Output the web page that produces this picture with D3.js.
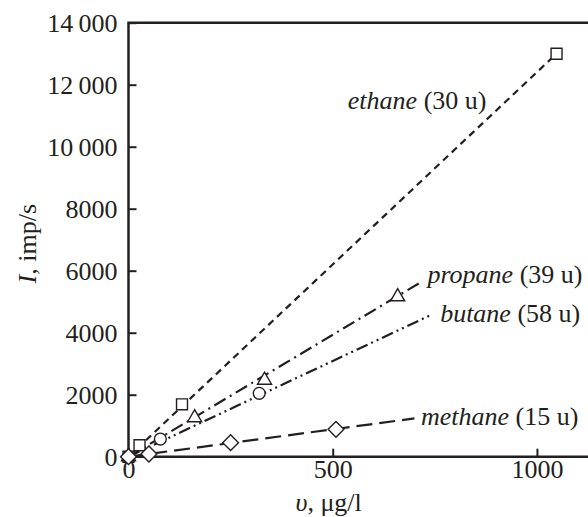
<!DOCTYPE html>
<html>
<head>
<meta charset="utf-8">
<script src="https://cdn.jsdelivr.net/npm/d3@7"></script>
<style>
  body { margin: 0; background: #fff; }
  svg text { font-family: "Liberation Serif", "Times New Roman", Times, "DejaVu Serif", serif; fill: #231f20; }
</style>
</head>
<body>
<div id="plot"></div>
<script>
const width = 588
const height = 517

// --- Data ---
const xTicks = [0, 500, 1000]
const yTicks = [0, 2000, 4000, 6000, 8000, 10000, 12000, 14000]

// measured points, v (ug/l) and I (imp/s)
const ethaneX = [0, 27, 131, 1048]
const ethaneY = [0, 370, 1690, 13000]
const propaneX = [0, 162, 333, 659]
const propaneY = [0, 1260, 2470, 5160]
const butaneX = [0, 78, 320]
const butaneY = [0, 570, 2045]
const methaneX = [0, 50, 250, 508]
const methaneY = [0, 87, 452, 884]

// fit lines: start and end (v, I)
const ethaneLine = [[0, 0], [1048, 13000]]
const propaneLine = [[0, 0], [712, 5600]]
const butaneLine = [[0, 0], [745, 4600]]
const methaneLine = [[0, 0], [700, 1235]]

// label anchors (v, I), name and mass
const series = [
  { name: "ethane", mass: "(30 u)", xs: ethaneX, ys: ethaneY, line: ethaneLine, symbol: "square", dash: "7,5", at: [537, 11230] },
  { name: "propane", mass: "(39 u)", xs: propaneX, ys: propaneY, line: propaneLine, symbol: "triangle", dash: "13,5,2,5", at: [732, 5600] },
  { name: "butane", mass: "(58 u)", xs: butaneX, ys: butaneY, line: butaneLine, symbol: "circle", dash: "12,4,2,4,2,4", at: [763, 4350] },
  { name: "methane", mass: "(15 u)", xs: methaneX, ys: methaneY, line: methaneLine, symbol: "diamond", dash: "16,7", at: [716, 1020] }
]

const serif = '"Liberation Serif", "Times New Roman", Times, "DejaVu Serif", serif'

const svg = d3.select("#plot")
              .append("svg")
                .attr("width", width)
                .attr("height", height)
                .attr("font-family", serif)

// Scales
const xScale = d3.scaleLinear()
                 .domain([0, 1125])
                 .range([128.5, 588])

const yScale = d3.scaleLinear()
                 .domain([0, 14000])
                 .range([456.7, 22.7])

const ink = "#231f20"
const fontSize = 26

// Frame (top, left, bottom)
svg.append("path")
   .attr("d", `M${xScale.range()[1]},${yScale(14000)} H${xScale(0)} V${yScale(0)} H${xScale.range()[1]}`)
   .attr("fill", "none")
   .attr("stroke", ink)
   .attr("stroke-width", 2.5)

// Y axis - ticks pointing inside
const fmtY = d => d >= 10000 ? d3.format("d")(d).replace(/(\d{2})(\d{3})/, "$1\u2009$2") : d3.format("d")(d)
const yAxis = d3.axisLeft(yScale)
                .tickValues(yTicks)
                .tickSize(-8)
                .tickPadding(11)
                .tickFormat(fmtY)

svg.append("g")
   .attr("transform", `translate(${xScale(0)},0)`)
   .call(yAxis)
   .attr("font-family", serif)
   .call(g => g.select(".domain").remove())
   .call(g => g.selectAll("line").attr("stroke", ink).attr("stroke-width", 2))
   .call(g => g.selectAll("text").attr("font-size", fontSize).attr("fill", ink))

// X axis - ticks pointing up
const xAxis = d3.axisBottom(xScale)
                .tickValues(xTicks)
                .tickSize(-8)
                .tickPadding(3)
                .tickFormat(d3.format("d"))

svg.append("g")
   .attr("transform", `translate(0,${yScale(0)})`)
   .call(xAxis)
   .attr("font-family", serif)
   .call(g => g.select(".domain").remove())
   .call(g => g.selectAll("line").attr("stroke", ink).attr("stroke-width", 2))
   .call(g => g.selectAll("text").attr("font-size", fontSize).attr("fill", ink))

// Axis titles
const yTitle = svg.append("text")
                  .attr("transform", `translate(36,${yScale(7000) + 4}) rotate(-90)`)
                  .attr("text-anchor", "middle")
                  .attr("font-size", fontSize)
yTitle.append("tspan").attr("font-style", "italic").text("I")
yTitle.append("tspan").text(", imp/s")

const xTitle = svg.append("text")
                  .attr("x", xScale(490))
                  .attr("y", 511)
                  .attr("text-anchor", "middle")
                  .attr("font-size", fontSize)
xTitle.append("tspan").attr("font-style", "italic").text("\u03c5")
xTitle.append("tspan").text(", \u03bcg/l")

// Lines
const line = d3.line()
               .x(d => xScale(d[0]))
               .y(d => yScale(d[1]))

series.forEach(s => {
  svg.append("path")
     .datum(s.line)
     .attr("fill", "none")
     .attr("stroke", ink)
     .attr("stroke-width", 2.2)
     .attr("stroke-dasharray", s.dash)
     .attr("d", line)
})

// Markers - diamond is a square turned 45 degrees
const symbols = {
  square: d3.symbolSquare,
  triangle: d3.symbolTriangle,
  circle: d3.symbolCircle,
  diamond: d3.symbolSquare
}
const sizes = { square: 120, triangle: 85, circle: 110, diamond: 125 }

series.forEach(s => {
  const pts = s.xs.map((x, i) => [x, s.ys[i]])
  const turn = s.symbol === "diamond" ? " rotate(45)" : ""
  svg.append("g")
     .selectAll("path")
     .data(pts)
     .join("path")
       .attr("transform", d => `translate(${xScale(d[0])},${yScale(d[1])})${turn}`)
       .attr("d", d3.symbol().type(symbols[s.symbol]).size(sizes[s.symbol]))
       .attr("fill", "#fff")
       .attr("stroke", ink)
       .attr("stroke-width", 1.4)
})

// Series labels
series.forEach(s => {
  const t = svg.append("text")
               .attr("x", xScale(s.at[0]))
               .attr("y", yScale(s.at[1]))
               .attr("font-size", fontSize)
  t.append("tspan").attr("font-style", "italic").text(s.name)
  t.append("tspan").text(" " + s.mass)
})
</script>
</body>
</html>
